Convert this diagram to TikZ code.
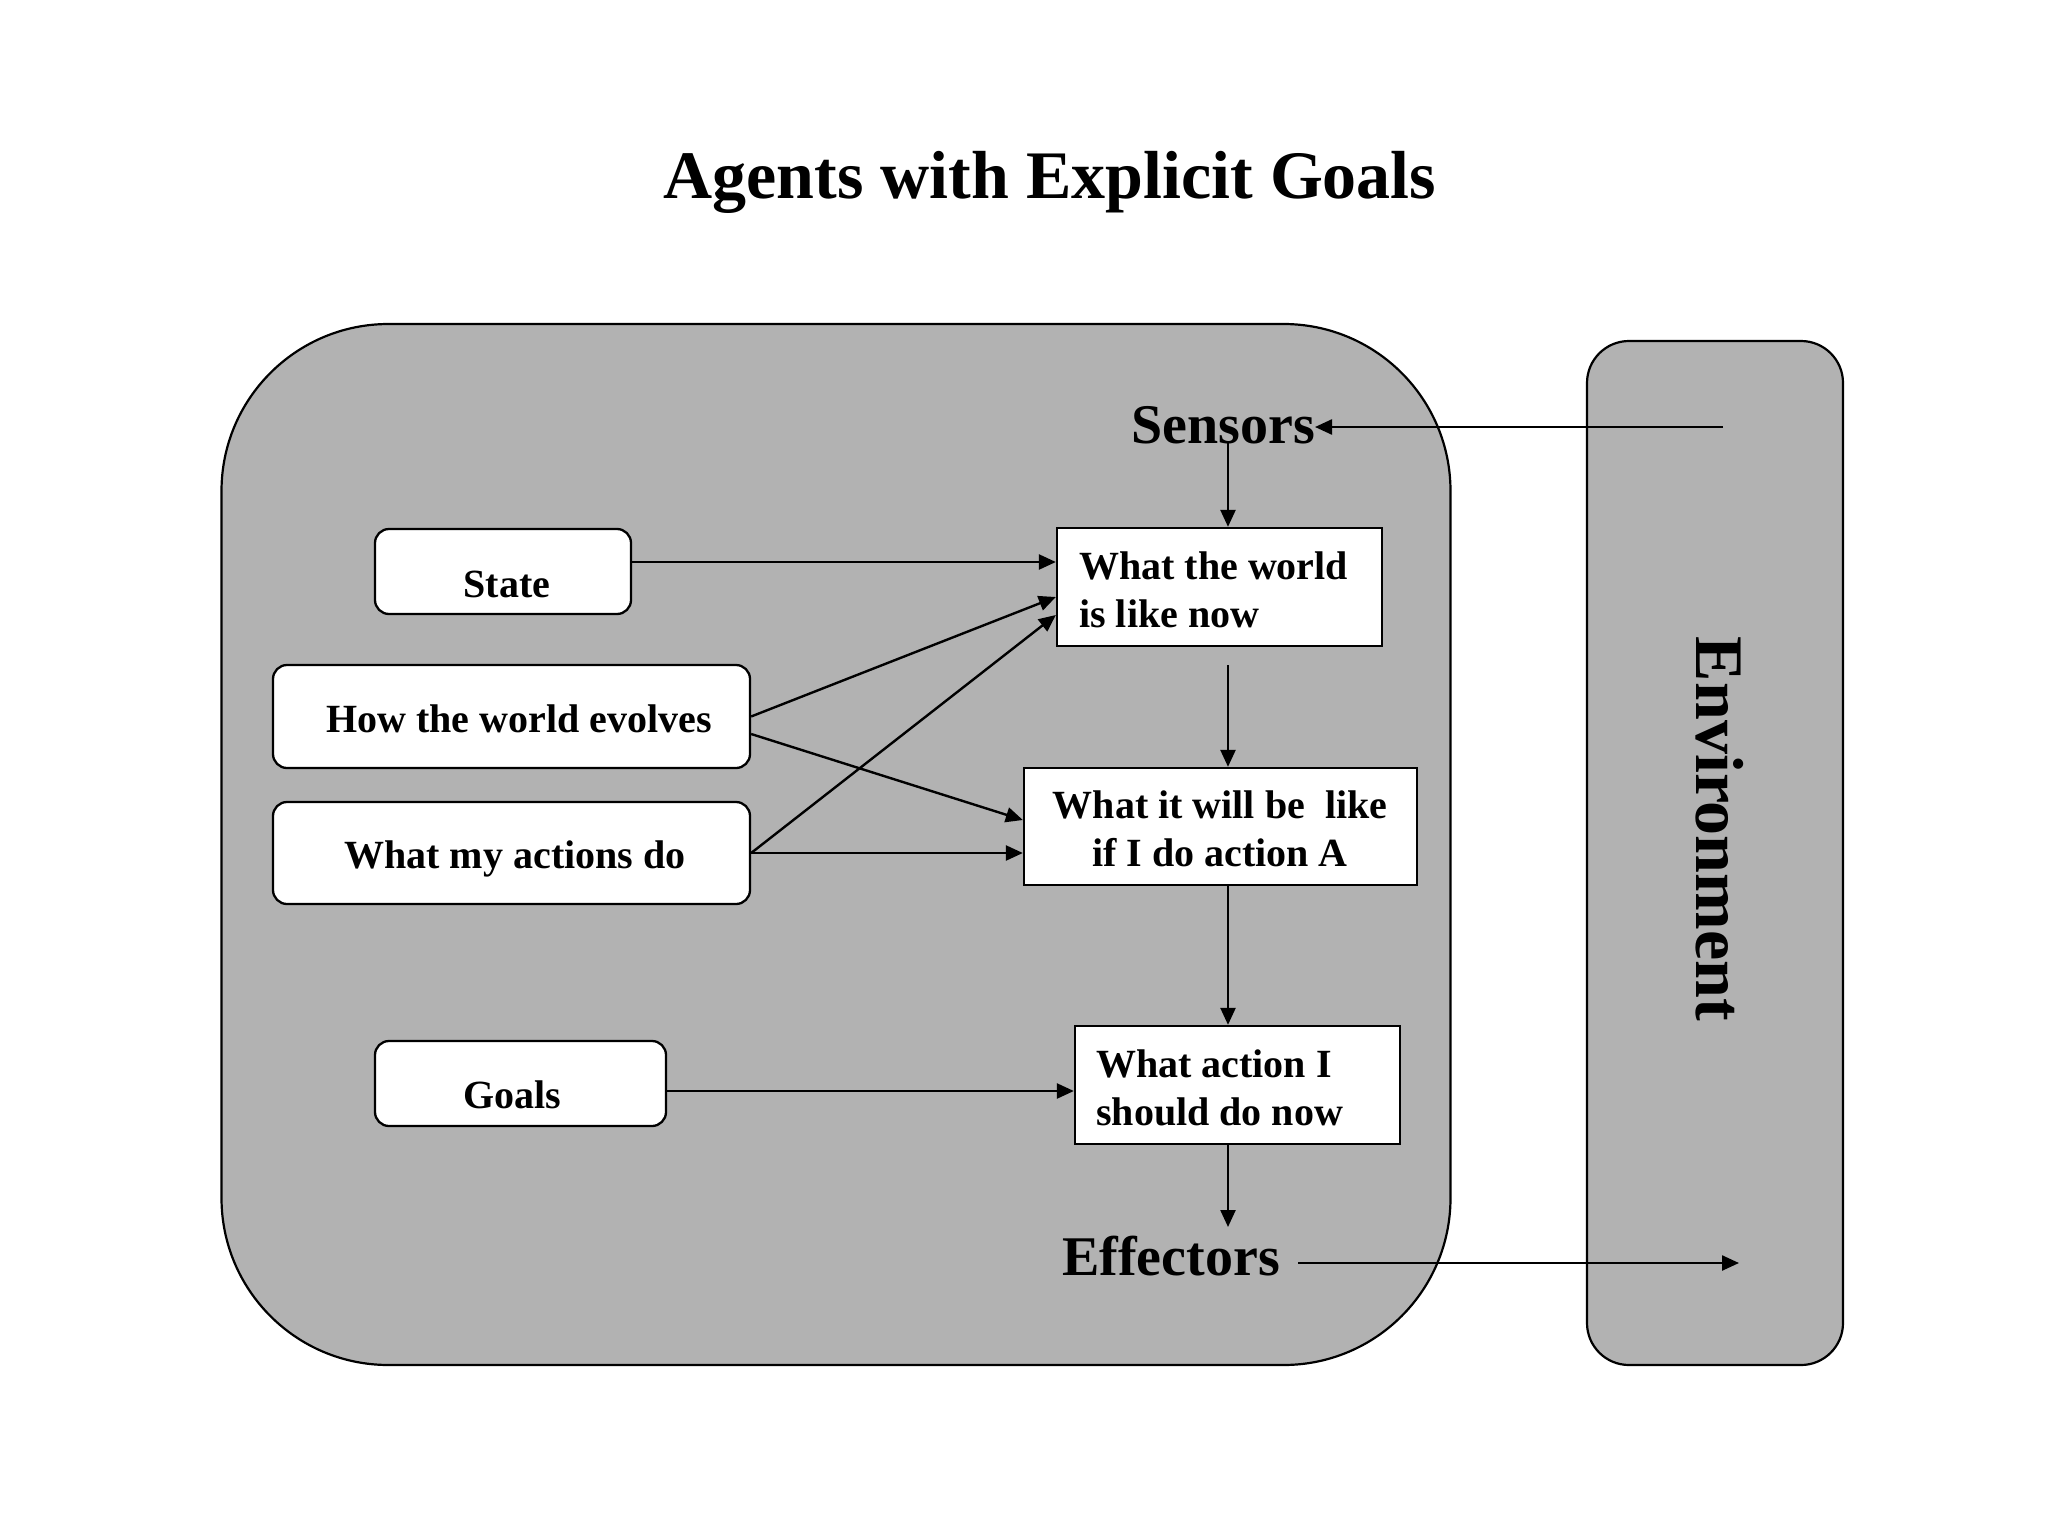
\documentclass[tikz,border=0pt]{standalone}
\usepackage{fontspec}
\setmainfont{Liberation Serif}
\usetikzlibrary{arrows.meta}
\definecolor{agray}{RGB}{178,178,178}
\begin{document}
\begin{tikzpicture}[x=1pt,y=-1pt,
  gbox/.style={draw, line width=2.3pt, fill=white, inner sep=0pt, rounded corners=14pt},
  sbox/.style={draw, line width=2.3pt, fill=white, inner sep=0pt},
  lbl/.style={font=\bfseries\fontsize{40}{48}\selectfont, inner sep=0pt, anchor=base},
  lblw/.style={lbl, anchor=base west},
  big/.style={font=\bfseries\fontsize{56}{60}\selectfont, inner sep=0pt, anchor=base},
  arr/.style={-{Triangle[length=17pt,width=15pt]}, line width=2.4pt}]
\useasboundingbox (0,0) rectangle (2048,1536);
% outer shapes
\node[draw, line width=2.2pt, fill=agray, rounded corners=167pt, inner sep=0pt,
      minimum width=1229pt, minimum height=1041pt] (agent) at (836,844.5) {};
\node[draw, line width=2.2pt, fill=agray, rounded corners=42pt, inner sep=0pt,
      minimum width=256pt, minimum height=1024pt] (env) at (1715,853) {};
% title
\node[font=\bfseries\fontsize{68}{72}\selectfont, inner sep=0pt, anchor=base] (title) at (1050,198) {Agents with Explicit Goals};
% environment label
\node[font=\bfseries\fontsize{68}{72}\selectfont, inner sep=0pt, rotate=-90] (envlbl) at (1720,829) {Environment};
% left boxes
\node[gbox, minimum width=256pt, minimum height=85pt] (state) at (503,571.5) {};
\node[gbox, minimum width=477pt, minimum height=103pt] (hwe) at (511.5,716.5) {};
\node[gbox, minimum width=477pt, minimum height=102pt] (wmad) at (511.5,853) {};
\node[gbox, minimum width=291pt, minimum height=85pt] (goals) at (520.5,1083.5) {};
\node[lbl] (statet) at (507,597) {State};
\node[lbl] (hwet) at (519,732) {How the world evolves};
\node[lbl] (wmadt) at (515,868) {What my actions do};
\node[lbl] (goalst) at (512,1108) {Goals};
% right boxes
\node[sbox, minimum width=325pt, minimum height=118pt] (w1) at (1219.5,587) {};
\node[sbox, minimum width=393pt, minimum height=117pt] (w2) at (1220.5,826.5) {};
\node[sbox, minimum width=325pt, minimum height=118pt] (w3) at (1237.5,1085) {};
\node[lblw] (w1a) at (1079,579) {What the world};
\node[lblw] (w1b) at (1079,627) {is like now};
\node[lbl] (w2a) at (1220,818) {What it will be~ like};
\node[lbl] (w2b) at (1220,866) {if I do action A};
\node[lblw] (w3a) at (1096,1077) {What action I};
\node[lblw] (w3b) at (1096,1125) {should do now};
% sensors / effectors
\node[big] (sensors) at (1223,443) {Sensors};
\node[big] (effectors) at (1171,1275) {Effectors};
% helper coordinates
\coordinate (envin) at (1723,427);
\coordinate (sx) at (1228,443);
\coordinate (c12) at (1228,665);
\coordinate (effin) at (1228,1227);
\coordinate (effout) at (1739,1263);
\coordinate (effstart) at (1298,1263);
% connectors
\draw[arr] (envin) -- (envin -| sensors.east);
\draw[arr] (sx) -- (sx |- w1.north);
\draw[arr] (c12) -- (c12 |- w2.north);
\draw[arr] (c12 |- w2.south) -- (c12 |- w3.north);
\draw[arr] (c12 |- w3.south) -- (effin);
\draw[arr] (effstart) -- (effout);
\draw[arr] ([yshift=9.5pt]state.east) -- ([yshift=9.5pt]state.east -| w1.west);
\draw[arr] (hwe.east) -- ([yshift=-10pt]w1.west);
\draw[arr] ([yshift=-17.5pt]hwe.east) -- ([yshift=6.5pt]w2.west);
\draw[arr] (wmad.east) -- ([yshift=-28pt]w1.west);
\draw[arr] (wmad.east) -- (wmad.east -| w2.west);
\draw[arr] ([yshift=-7.5pt]goals.east) -- ([yshift=-7.5pt]goals.east -| w3.west);
\end{tikzpicture}
\end{document}
